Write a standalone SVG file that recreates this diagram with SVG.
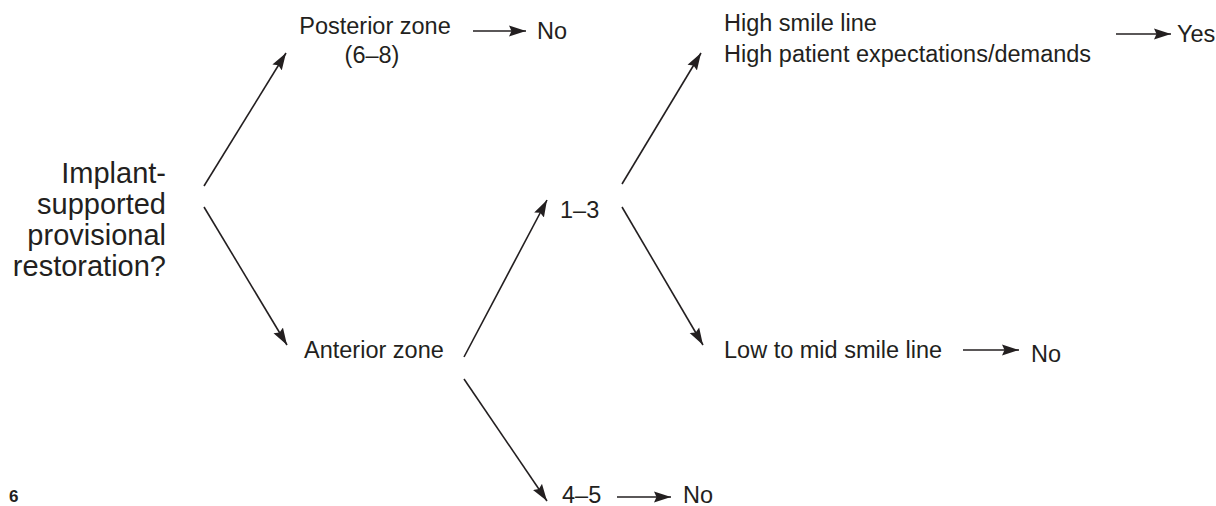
<svg xmlns="http://www.w3.org/2000/svg" width="1216" height="506" viewBox="0 0 1216 506">
<style>
text{font-family:"Liberation Sans",Arial,sans-serif;fill:#231f20}
.t{font-size:23.5px}
.m{font-size:29px}
.c line{stroke:#231f20;stroke-width:1.6;fill:none}
</style>
<defs>
<marker id="ah" markerUnits="userSpaceOnUse" markerWidth="18" markerHeight="12" viewBox="0 0 18 12" refX="17" refY="6" orient="auto">
<path d="M0,0.5 L17,6 L0,11.5 L2.5,6 Z" fill="#231f20"/>
</marker>
</defs>
<rect width="1216" height="506" fill="#fff"/>
<g class="c" id="connectors">
<line x1="204" y1="186" x2="286" y2="53" marker-end="url(#ah)"/>
<line x1="204" y1="207" x2="287" y2="345" marker-end="url(#ah)"/>
<line x1="473" y1="31" x2="526" y2="31" marker-end="url(#ah)"/>
<line x1="464" y1="357" x2="547" y2="200" marker-end="url(#ah)"/>
<line x1="464" y1="379" x2="547" y2="501" marker-end="url(#ah)"/>
<line x1="617" y1="497" x2="671" y2="497" marker-end="url(#ah)"/>
<line x1="622" y1="184" x2="701" y2="53" marker-end="url(#ah)"/>
<line x1="622" y1="207" x2="703" y2="345" marker-end="url(#ah)"/>
<line x1="1116" y1="34" x2="1171" y2="34" marker-end="url(#ah)"/>
<line x1="963" y1="350" x2="1019" y2="350" marker-end="url(#ah)"/>
</g>
<g id="root">
<text class="m" text-anchor="end" x="166" y="183">Implant-</text>
<text class="m" text-anchor="end" x="166" y="214">supported</text>
<text class="m" text-anchor="end" x="166" y="245">provisional</text>
<text class="m" text-anchor="end" x="166" y="276">restoration?</text>
</g>
<g id="posterior">
<text class="t" text-anchor="middle" x="375" y="34">Posterior zone</text>
<text class="t" text-anchor="middle" x="372" y="63">(6–8)</text>
</g>
<g id="no1"><text class="t" x="537" y="39">No</text></g>
<g id="anterior"><text class="t" x="304" y="358">Anterior zone</text></g>
<g id="n13"><text class="t" x="560" y="218">1–3</text></g>
<g id="n45"><text class="t" x="562" y="503">4–5</text></g>
<g id="no2"><text class="t" x="683" y="503">No</text></g>
<g id="high">
<text class="t" x="724" y="31">High smile line</text>
<text class="t" x="724" y="62">High patient expectations/demands</text>
</g>
<g id="yes"><text class="t" x="1177" y="42">Yes</text></g>
<g id="low"><text class="t" x="724" y="358">Low to mid smile line</text></g>
<g id="no3"><text class="t" x="1031" y="362">No</text></g>
<g id="page"><text x="9" y="502" font-size="17" font-weight="bold">6</text></g>
</svg>
